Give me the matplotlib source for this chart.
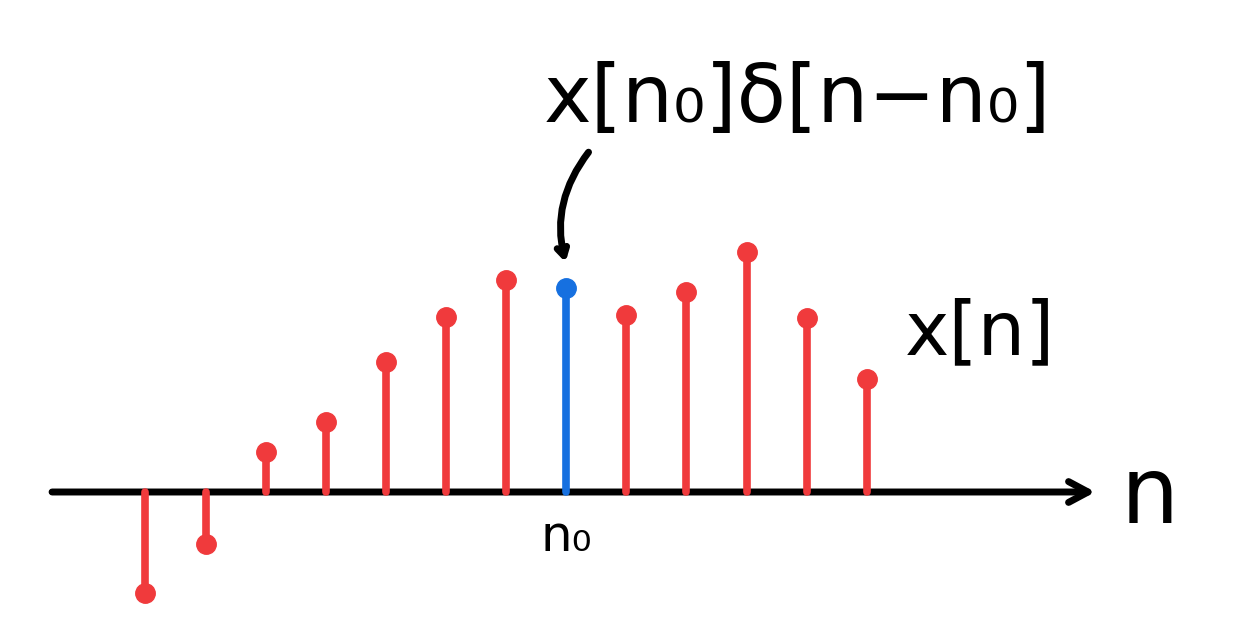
import matplotlib.pyplot as plt
import numpy as np

# sample index relative to n0, and the signal values x[n]
n = [-7, -6, -5, -4, -3, -2, -1, 0, 1, 2, 3, 4, 5]
x = [-1.01, -0.52, 0.40, 0.70, 1.30, 1.75, 2.12, 2.04, 1.77, 2.00, 2.40, 1.74, 1.13]
n0 = 0

red = '#f03a3c'
blue = '#1670e0'

fig = plt.figure(figsize=(12.46, 6.44), dpi=100)
ax = fig.add_axes([0, 0, 1, 1])
ax.set_xlim(-9.42, 11.31)
ax.set_ylim(-1.52, 4.92)
ax.axis('off')

for ni, xi in zip(n, x):
    c = blue if ni == n0 else red
    ax.plot([ni, ni], [0, xi], color=c, lw=5.5, solid_capstyle='round', zorder=2)
    ax.plot(ni, xi, 'o', color=c, ms=14, zorder=3)

# horizontal axis with open arrow head
ax.annotate('', xy=(8.85, 0), xytext=(-8.6, 0),
            arrowprops=dict(arrowstyle='->,head_length=1.4,head_width=0.75',
                            lw=5, color='black', capstyle='round'), zorder=1)
ax.text(9.7, -0.05, 'n', fontsize=66, ha='center', va='center', family='DejaVu Sans')
ax.text(0.0, -0.45, 'n₀', fontsize=36, ha='center', va='center', family='DejaVu Sans')

# labels
ax.text(3.84, 3.92, 'x[n₀]δ[n−n₀]', fontsize=58, ha='center', va='center', family='DejaVu Sans')
ax.text(6.89, 1.58, 'x[n]', fontsize=54, ha='center', va='center', family='DejaVu Sans')
ax.annotate('', xy=(0.0, 2.27), xytext=(0.4, 3.42),
            arrowprops=dict(arrowstyle='->,head_length=0.6,head_width=0.35', lw=5, color='black',
                            connectionstyle='arc3,rad=0.25'))

fig.savefig('out.png', dpi=100)
